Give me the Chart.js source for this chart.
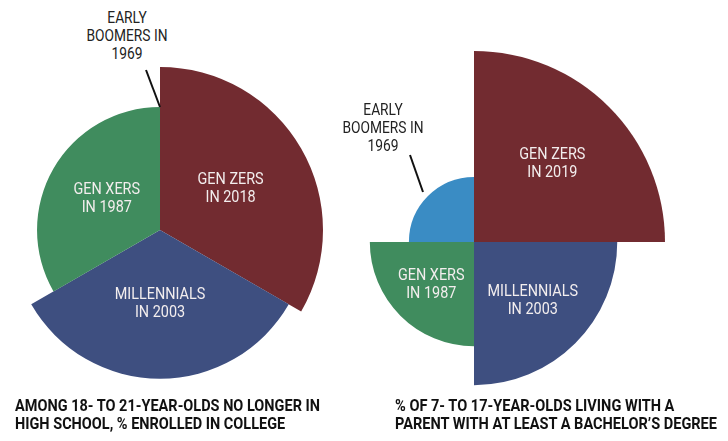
<!DOCTYPE html>
<html>
<head>
<meta charset="utf-8">
<script src="https://cdn.jsdelivr.net/npm/chart.js@4.4.1/dist/chart.umd.min.js"></script>
<style>
  html, body { margin: 0; padding: 0; background: #fff; }
  #wrap { position: relative; width: 728px; height: 441px; overflow: hidden; font-family: Roboto, "Noto Sans", sans-serif; }
  .box { position: absolute; }
  .note { position: absolute; text-align: center; font-size: 16px; line-height: 18px; color: #222; transform: scaleX(0.86); }
  .title { position: absolute; font-size: 17px; line-height: 18px; font-weight: bold; color: #111; white-space: nowrap; transform-origin: 0 0; }
  .title span { display: inline-block; }
  svg { position: absolute; left: 0; top: 0; }
</style>
</head>
<body>
<div id="wrap">
  <div class="box" style="left:-3px; top:67px; width:326px; height:326px;"><canvas id="left" width="326" height="326"></canvas></div>
  <div class="box" style="left:283px; top:51px; width:382px; height:382px;"><canvas id="right" width="382" height="382"></canvas></div>

  <div class="note" style="left:67px; top:9px; width:120px;">EARLY<br>BOOMERS IN<br>1969</div>
  <div class="note" style="left:323px; top:101px; width:120px;">EARLY<br>BOOMERS IN<br>1969</div>
  <svg width="728" height="441">
    <line x1="146" y1="70" x2="160" y2="107" stroke="#111" stroke-width="2"/>
    <line x1="410" y1="155" x2="423" y2="192" stroke="#111" stroke-width="2"/>
  </svg>

  <div class="title" data-w="305" style="left:15px; top:396px;"><span>AMONG 18- TO 21-YEAR-OLDS NO LONGER IN</span><br><span>HIGH SCHOOL, % ENROLLED IN COLLEGE</span></div>
  <div class="title" data-w="322" style="left:395px; top:396px;"><span>% OF 7- TO 17-YEAR-OLDS LIVING WITH A</span><br><span>PARENT WITH AT LEAST A BACHELOR’S DEGREE</span></div>
</div>
<script>
// generations, clockwise from the top
const leftLabels = [['GEN ZERS', 'IN 2018'], ['MILLENNIALS', 'IN 2003'], ['GEN XERS', 'IN 1987'], ['EARLY BOOMERS', 'IN 1969']];
const leftValues = [57, 52, 43, 27];      // % enrolled in college
const leftAngles = [120, 120, 120, 0.01]; // boomers get no wedge in the original

const rightLabels = [['GEN ZERS', 'IN 2019'], ['MILLENNIALS', 'IN 2003'], ['GEN XERS', 'IN 1987'], ['EARLY BOOMERS', 'IN 1969']];
const rightValues = [44, 33, 24, 15];     // % with a parent holding a bachelor's degree

const colors = ['#722b30', '#3e4f80', '#408c5e', '#3a8cc4'];

// squeeze the bottom titles to the width of the condensed face in the original
document.querySelectorAll('.title').forEach(el => {
  const widest = Math.max(...[...el.querySelectorAll('span')].map(s => s.getBoundingClientRect().width));
  el.style.transform = 'scaleX(' + (el.dataset.w / widest) + ')';
});

// write the generation names inside the wedges
const sliceLabels = {
  id: 'sliceLabels',
  afterDatasetsDraw(chart, args, opts) {
    const ctx = chart.ctx;
    const meta = chart.getDatasetMeta(0);
    ctx.save();
    ctx.font = '16px Roboto, "Noto Sans", sans-serif';
    ctx.fillStyle = '#f3eeee';
    ctx.textAlign = 'center';
    ctx.textBaseline = 'middle';
    meta.data.forEach((arc, i) => {
      if (!opts.show[i]) return;
      const mid = (arc.startAngle + arc.endAngle) / 2;
      const r = arc.outerRadius * opts.factor;
      const x = arc.x + Math.cos(mid) * r;
      const y = arc.y + Math.sin(mid) * r;
      const lines = chart.data.labels[i];
      lines.forEach((t, k) => {
        ctx.save();
        ctx.translate(x, y + (k - (lines.length - 1) / 2) * 18);
        ctx.scale(0.9, 1);
        ctx.fillText(t, 0, 0);
        ctx.restore();
      });
    });
    ctx.restore();
  }
};

function makeChart(id, labels, values, angles, factor) {
  return new Chart(document.getElementById(id), {
    type: 'polarArea',
    data: {
      labels: labels,
      datasets: [{
        data: values,
        backgroundColor: colors,
        borderWidth: 0,
        angle: angles ? (c => angles[c.dataIndex]) : undefined
      }]
    },
    options: {
      responsive: false,
      animation: false,
      layout: { padding: 0 },
      scales: {
        r: { display: false, min: 0, max: Math.max(...values), startAngle: 0 }
      },
      plugins: {
        legend: { display: false },
        tooltip: { enabled: false },
        sliceLabels: { factor: factor, show: [true, true, true, false] }
      }
    },
    plugins: [sliceLabels]
  });
}

makeChart('left', leftLabels, leftValues, leftAngles, 0.5);
makeChart('right', rightLabels, rightValues, null, 0.58);
</script>
</body>
</html>
